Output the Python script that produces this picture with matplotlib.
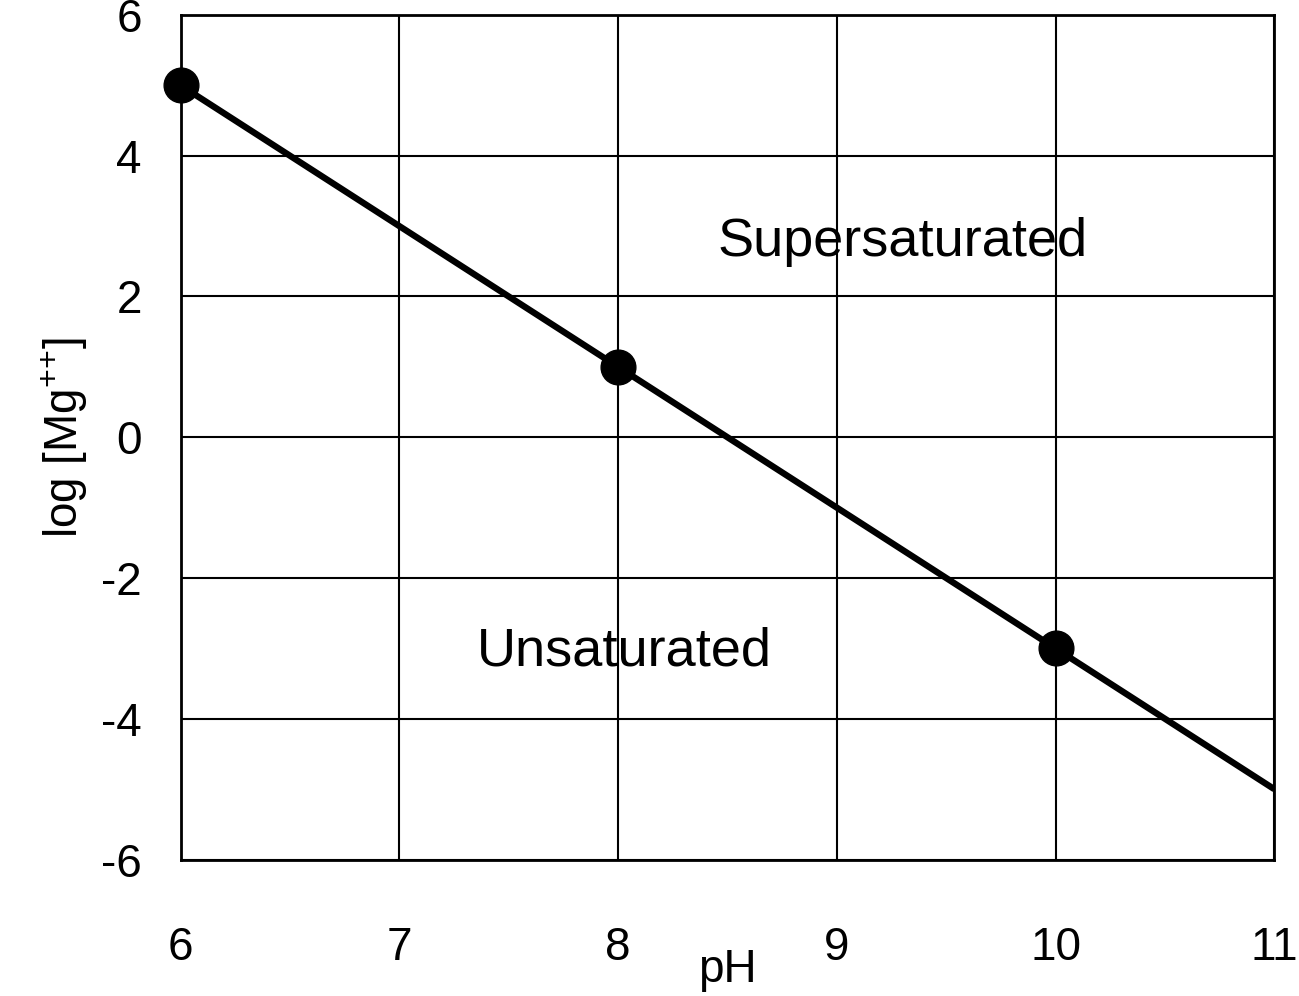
import matplotlib

matplotlib.use("Agg")

import matplotlib.pyplot as plt

# line end points and measured points
ph_line = [6, 11]
mg_line = [5, -5]
ph_points = [6, 8, 10]
mg_points = [5, 1, -3]

x_ticks = [6, 7, 8, 9, 10, 11]
y_ticks = [-6, -4, -2, 0, 2, 4, 6]

plt.rcParams["font.family"] = ["Liberation Sans", "DejaVu Sans"]
plt.rcParams["axes.unicode_minus"] = False
plt.rcParams["mathtext.default"] = "regular"

fig = plt.figure(figsize=(12.99, 9.96), dpi=100)
ax = fig.add_axes([0.139, 0.137, 0.842, 0.848])

ax.plot(ph_line, mg_line, color="black", linewidth=4.6, solid_capstyle="butt", zorder=3)
ax.plot(ph_points, mg_points, "o", color="black", markersize=25, clip_on=False, zorder=4)

ax.set_xlim(6, 11)
ax.set_ylim(-6, 6)
ax.set_xticks(x_ticks)
ax.set_yticks(y_ticks)
ax.grid(True, color="black", linewidth=1.5)
ax.tick_params(length=0, labelsize=33)
ax.tick_params(axis="x", pad=48)
ax.tick_params(axis="y", pad=28)
for s in ax.spines.values():
    s.set_linewidth(2)

ax.text(9.3, 2.78, "Supersaturated", fontsize=39, ha="center", va="center")
ax.text(8.03, -3.05, "Unsaturated", fontsize=39, ha="center", va="center")

ax.set_xlabel("pH", fontsize=33, labelpad=-16)
ax.set_ylabel("log [Mg$^{{+}{+}}$]", fontsize=33, labelpad=8)

fig.savefig("out.png", dpi=100)
